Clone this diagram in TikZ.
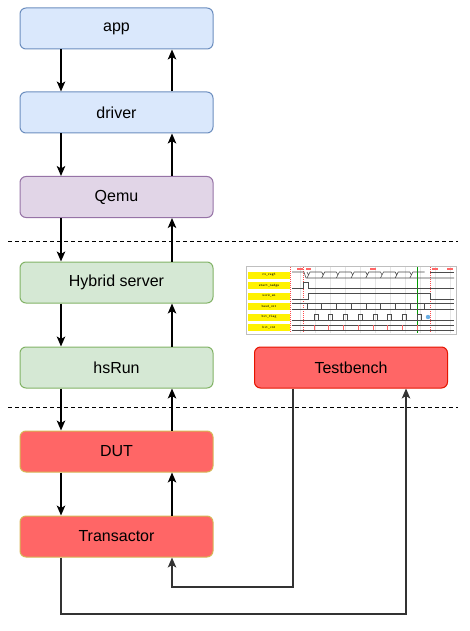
\documentclass[tikz,border=0pt]{standalone}
\usepackage{fontspec}
\setmainfont{Liberation Sans}
\usetikzlibrary{arrows.meta}

\definecolor{blueFill}{HTML}{DAE8FC}
\definecolor{blueLine}{HTML}{6C8EBF}
\definecolor{purpleFill}{HTML}{E1D5E7}
\definecolor{purpleLine}{HTML}{9673A6}
\definecolor{greenFill}{HTML}{D5E8D4}
\definecolor{greenLine}{HTML}{82B366}
\definecolor{redFill}{HTML}{FF6666}
\definecolor{yellowLine}{HTML}{D6B656}
\definecolor{tbLine}{HTML}{E51400}
\definecolor{wireGray}{HTML}{333333}

\tikzset{
    block/.style={draw, rounded corners=6pt, line width=1pt, minimum width=193pt,
        minimum height=41pt, font=\fontsize{16}{19}\selectfont},
    link/.style={line width=1.2pt, -{Stealth[length=10pt,width=8.5pt,inset=2.5pt]}},
    loopwire/.style={line width=1.2pt, draw=wireGray},
    sig/.style={line width=0.6pt, draw=black!70},
    siglabel/.style={fill=yellow, minimum width=42pt, minimum height=7pt, inner sep=0pt,
        font=\ttfamily\fontsize{3.5}{4}\selectfont}
}

\begin{document}
\begin{tikzpicture}[x=1pt, y=-1pt]

    \useasboundingbox (0,0) rectangle (469,631);

    % Software side
    \node[block, fill=blueFill, draw=blueLine] (app) at (116.5,28.5) {app};
    \node[block, fill=blueFill, draw=blueLine] (driver) at (116.5,112.5) {driver};
    \node[block, fill=purpleFill, draw=purpleLine] (qemu) at (116.5,197) {Qemu};

    % Bridge
    \node[block, fill=greenFill, draw=greenLine] (hybrid) at (116.5,282.5) {Hybrid server};
    \node[block, fill=greenFill, draw=greenLine] (hsrun) at (116.5,367.5) {hsRun};

    % Hardware side
    \node[block, fill=redFill, draw=yellowLine] (dut) at (116.5,451.5) {DUT};
    \node[block, fill=redFill, draw=yellowLine] (trans) at (116.5,536.5) {Transactor};
    \node[block, fill=redFill, draw=tbLine] (tb) at (351,367.5) {Testbench};

    % Separators
    \draw[line width=1pt, dash pattern=on 4pt off 3pt] (8,241) -- (458,241);
    \draw[line width=1pt, dash pattern=on 4pt off 3pt] (8,407) -- (458,407);

    % Down and up links of the stack
    \foreach \a/\b in {app/driver, driver/qemu, qemu/hybrid, hybrid/hsrun, hsrun/dut, dut/trans} {
        \draw[link] ([xshift=-55.5pt]\a.south) -- ([xshift=-55.5pt]\b.north);
        \draw[link] ([xshift=55.5pt]\b.north) -- ([xshift=55.5pt]\a.south);
    }

    % Transactor <-> Testbench
    \coordinate (lowA) at (406,614);
    \coordinate (lowB) at (172,587);
    \draw[loopwire, link] ([xshift=-55.5pt]trans.south) |- (lowA) -- ([xshift=55pt]tb.south);
    \draw[loopwire, link] ([xshift=-58pt]tb.south) |- (lowB) -- ([xshift=55.5pt]trans.south);

    % Waveform snapshot
    \draw[draw=black!25, fill=white] (246,266) rectangle (456,334);
    \foreach \gx in {300,315,...,450}
        \draw[black!10, line width=0.3pt] (\gx,267) -- (\gx,333);
    \foreach \rx in {290,303,430}
        \draw[red!70, line width=0.4pt, dash pattern=on 1pt off 1pt] (\rx,267) -- (\rx,333);
    \draw[green!60!black, line width=0.6pt] (417,267) -- (417,333);
    \fill[red!60] (297,268) rectangle (303,269.5);
    \fill[red!60] (306,268) rectangle (311,269.5);
    \fill[red!60] (370,268) rectangle (376,269.5);
    \fill[red!60] (432,268) rectangle (438,269.5);
    \fill[red!60] (447,268) rectangle (453,269.5);

    % signal names
    \node[siglabel] (rxreg) at (269,275) {rx\_reg3};
    \node[siglabel] (sedge) at (269,285.7) {start\_nedge};
    \node[siglabel] (worken) at (269,296) {work\_en};
    \node[siglabel] (baud) at (269,306.5) {baud\_cnt};
    \node[siglabel] (bitflag) at (269,317) {bit\_flag};
    \node[siglabel] (bitcnt) at (269,327.5) {bit\_cnt};

    % rx_reg3
    \draw[sig] (292,272) -- (304,272) -- (306,278) -- (454,278);
    \foreach \t in {307,321.7,...,420}
        \draw[sig] (\t,272) -- (\t+1.5,275) -- (\t,278) (\t+1.5,275) -- (\t+3,272) -- (\t+14.7,272);
    \draw[sig] (430,272) -- (454,272);

    % start_nedge
    \draw[sig] (292,288.7) -- (303,288.7) -- (303,282.7) -- (308,282.7) -- (308,288.7) -- (454,288.7);

    % work_en
    \draw[sig] (292,299) -- (308,299) -- (308,293) -- (430,293) -- (430,299) -- (454,299);

    % baud_cnt
    \draw[sig] (292,303.5) -- (454,303.5) (292,309.5) -- (454,309.5);
    \foreach \t in {307,321.7,...,430}
        \draw[sig] (\t,303.5) -- (\t,309.5);

    % bit_flag
    \draw[sig] (292,320) -- (454,320);
    \foreach \t in {314,328.7,...,420}
        \draw[sig] (\t,320) -- (\t,314) -- (\t+4,314) -- (\t+4,320);
    \fill[cyan!70!blue!60] (428,317) circle (2.2pt);

    % bit_cnt
    \draw[sig] (292,325) -- (454,325) (292,330) -- (454,330);
    \foreach \t in {314,328.7,...,430}
        \draw[red!60, line width=0.5pt] (\t,325) -- (\t,330);

\end{tikzpicture}
\end{document}
